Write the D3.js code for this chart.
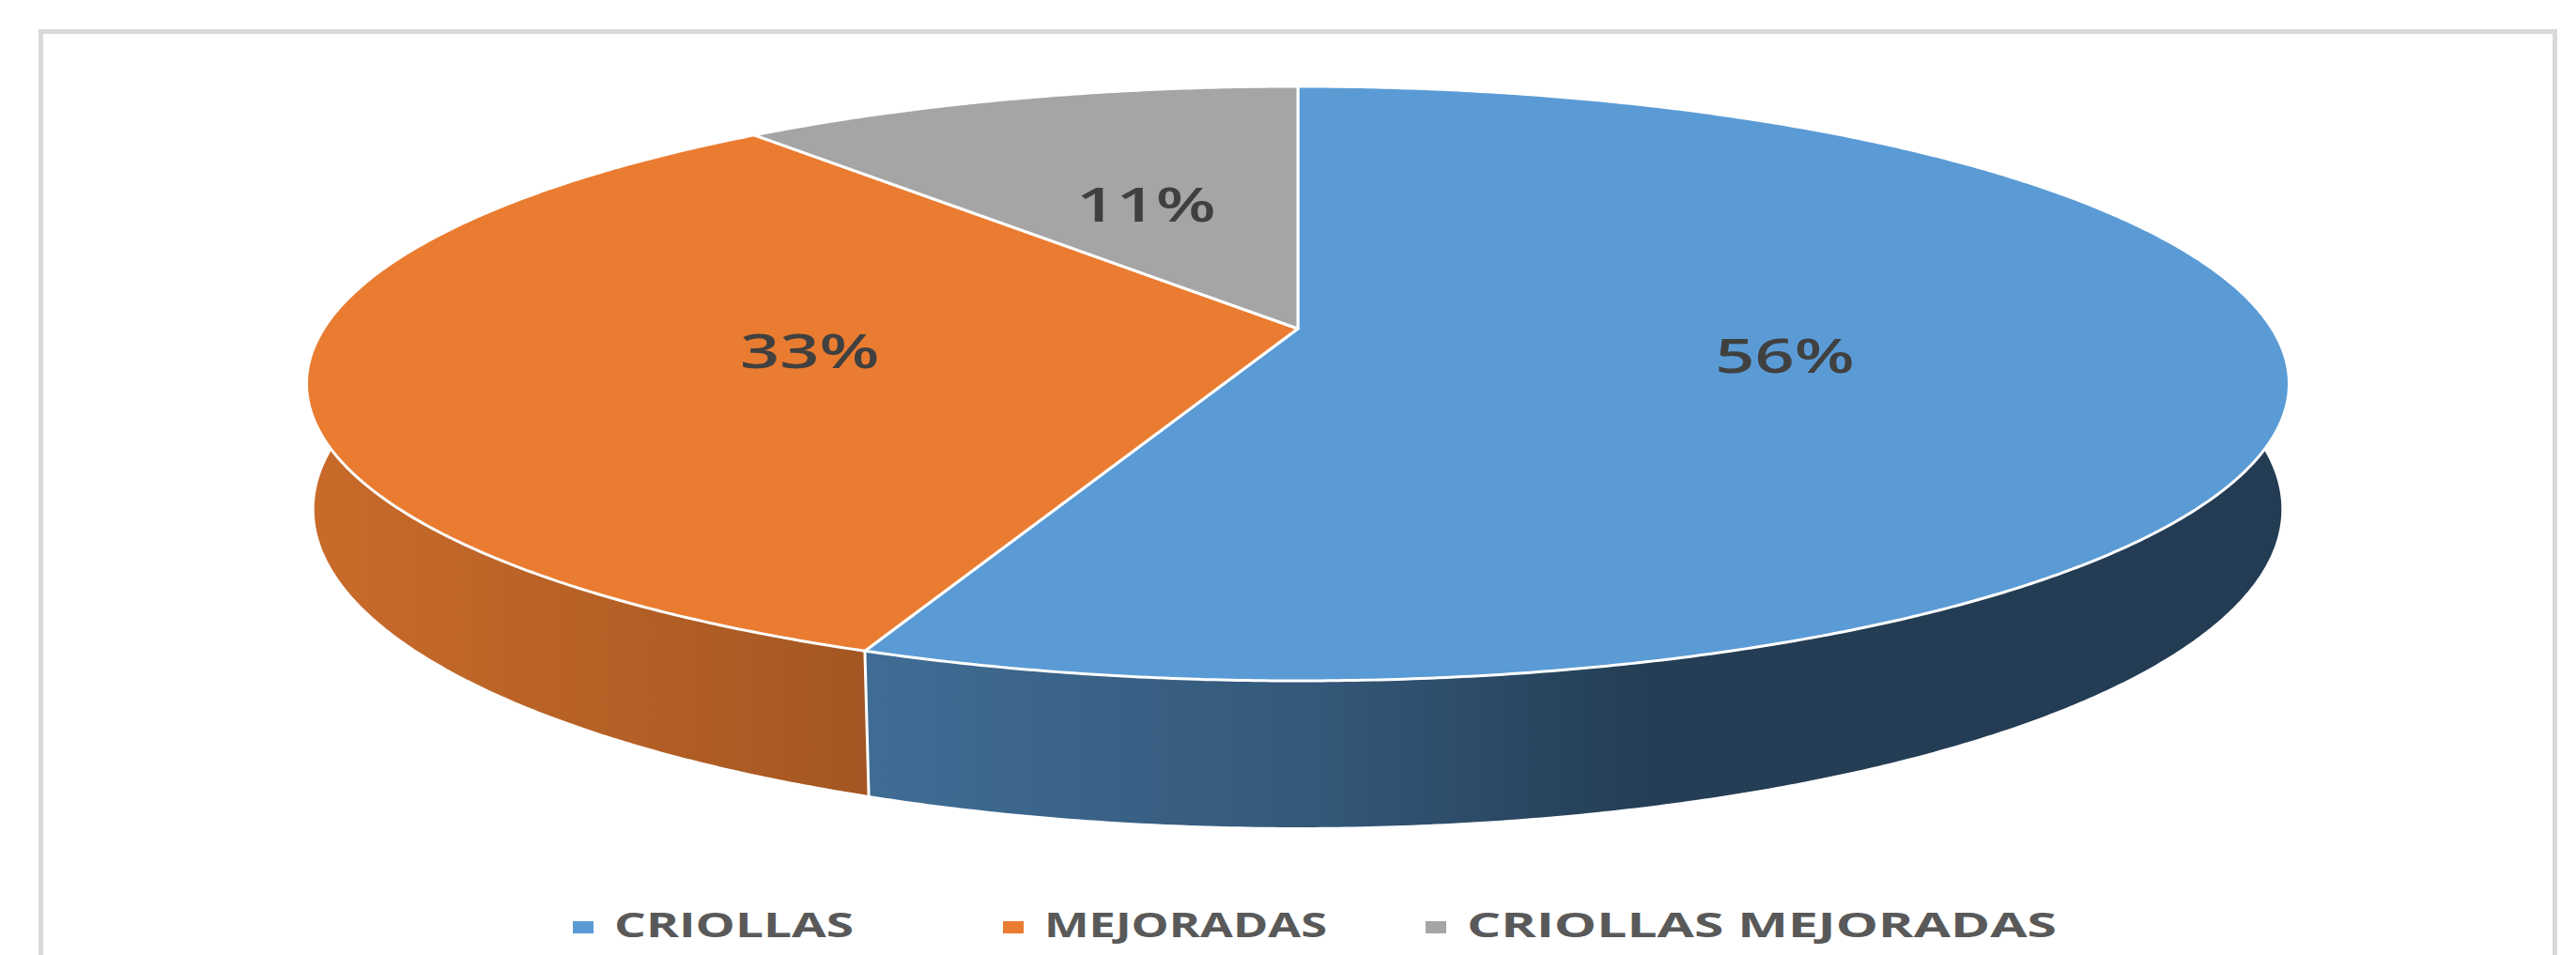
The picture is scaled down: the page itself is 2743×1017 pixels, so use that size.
<!DOCTYPE html>
<html><head><meta charset="utf-8">
<script src="https://cdn.jsdelivr.net/npm/d3@7"></script>
<style>html,body{margin:0;padding:0;background:#fff;overflow:hidden}</style>
</head><body><svg id="chart" width="2743" height="1017"></svg>
<script>
// ---- data ----
const categories = ["CRIOLLAS", "MEJORADAS", "CRIOLLAS MEJORADAS"];
const values = [56, 33, 11];
const colors = ["#5B9BD5", "#EA7C31", "#A5A5A5"];

// ---- setup ----
const svg = d3.select("#chart");
const defs = svg.append("defs");
svg.append("rect").attr("x", 43.5).attr("y", 33.5).attr("width", 2677).attr("height", 1100)
  .attr("fill", "#fff").attr("stroke", "#d9d9d9").attr("stroke-width", 5);

// perspective projection of a tilted disc
const cx = 1382, cy = 350;
const alpha = 17.14 * Math.PI / 180, dist = 5.171, focal = 5364, thick = 0.1323;
function proj(phi, r, h) {
  const X = r * Math.sin(phi), Z = -r * Math.cos(phi), Y = -h;
  const Yp = Y * Math.cos(alpha) - Z * Math.sin(alpha);
  const Zp = Y * Math.sin(alpha) + Z * Math.cos(alpha);
  const s = focal / (dist - Zp);
  return [cx + X * s, cy - Yp * s];
}
function arcPts(a0, a1, r, h) {
  const n = Math.max(2, Math.ceil((a1 - a0) / (0.4 * Math.PI / 180)));
  return d3.range(n + 1).map(i => proj(a0 + (a1 - a0) * i / n, r, h));
}

const pie = d3.pie().sort(null).value(d => d.value);
const data = categories.map((c, i) => ({ name: c, value: values[i], color: colors[i] }));
const arcs = pie(data);
const total = d3.sum(values);

// horizontal extent for side shading
let xmin = Infinity, xmax = -Infinity;
d3.range(0, 720).forEach(i => { const p = proj(i * Math.PI / 360, 1, 0); xmin = Math.min(xmin, p[0]); xmax = Math.max(xmax, p[0]); });
const shadeStops = [[0, 0.86], [0.28, 0.70], [0.51, 0.57], [0.674, 0.40], [1, 0.39]];

arcs.forEach((a, i) => {
  const g = defs.append("linearGradient").attr("id", "side" + i)
    .attr("gradientUnits", "userSpaceOnUse").attr("x1", xmin).attr("x2", xmax).attr("y1", 0).attr("y2", 0);
  const base = d3.rgb(a.data.color);
  shadeStops.forEach(([o, L]) => {
    g.append("stop").attr("offset", o)
      .attr("stop-color", d3.rgb(base.r * L, base.g * L, base.b * L).formatHex());
  });
});

const line = d3.line();

// sides
const sideG = svg.append("g");
arcs.forEach((a, i) => {
  const top = arcPts(a.startAngle, a.endAngle, 1, 0);
  const bot = arcPts(a.startAngle, a.endAngle, 1, thick).reverse();
  sideG.append("path").attr("d", line(top.concat(bot)) + "Z")
    .attr("fill", `url(#side${i})`).attr("stroke", "none");
});
// visible seams on sides
arcs.forEach(a => {
  [a.startAngle].forEach(ang => {
    if (-Math.cos(ang) > 0) {
      sideG.append("path").attr("d", line([proj(ang, 1, 0), proj(ang, 1, thick)]))
        .attr("stroke", "#fff").attr("stroke-width", 3).attr("fill", "none");
    }
  });
});

// tops
const topG = svg.append("g");
arcs.forEach(a => {
  const pts = [proj(0, 0, 0)].concat(arcPts(a.startAngle, a.endAngle, 1, 0));
  topG.append("path").attr("d", line(pts) + "Z")
    .attr("fill", a.data.color).attr("stroke", "#fff").attr("stroke-width", 3)
    .attr("stroke-linejoin", "round");
});

// data labels
const sx = 1.48;
arcs.forEach(a => {
  const mid = (a.startAngle + a.endAngle) / 2;
  const p = proj(mid, 0.5, 0);
  svg.append("g").attr("transform", `translate(${p[0]},${p[1]}) scale(${sx},1)`)
    .append("text").attr("text-anchor", "middle").attr("dy", "0.36em")
    .attr("font-family", "'Open Sans', sans-serif").attr("font-weight", 600)
    .attr("font-size", 50).attr("fill", "#404040")
    .text(Math.round(a.data.value / total * 100) + "%");
});

// legend
const legTextX = [654, 1112, 1562], legTextW = [255, 301, 628], legY = 998;
const leg = svg.append("g");
data.forEach((d, i) => {
  const x0 = legTextX[i];
  leg.append("rect").attr("x", x0 - 44).attr("y", 981).attr("width", 22).attr("height", 13).attr("fill", d.color);
  leg.append("text").attr("x", x0).attr("y", legY)
    .attr("textLength", legTextW[i]).attr("lengthAdjust", "spacingAndGlyphs")
    .attr("font-family", "'Open Sans', sans-serif").attr("font-weight", 700)
    .attr("font-size", 36.4).attr("fill", "#595959").text(d.name);
});
</script>
</body></html>
